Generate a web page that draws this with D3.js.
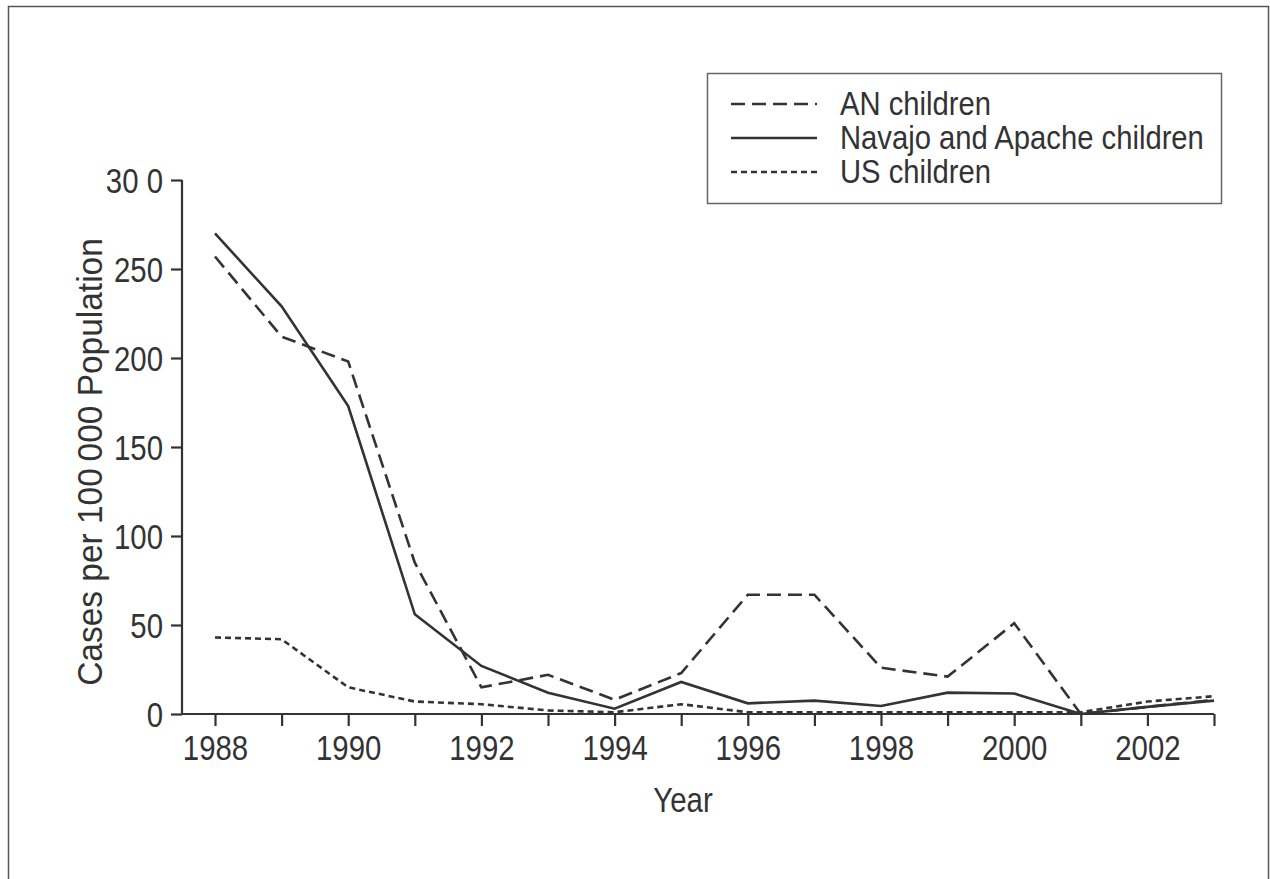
<!DOCTYPE html>
<html>
<head>
<meta charset="utf-8">
<script src="https://cdn.jsdelivr.net/npm/d3@7"></script>
<style>
  body { margin: 0; background: #fff; }
  text { font-family: "Liberation Sans", Arial, sans-serif; fill: #333; }
</style>
</head>
<body>
<svg id="chart" width="1270" height="879"></svg>
<script>
// values
var years = [1988, 1989, 1990, 1991, 1992, 1993, 1994, 1995, 1996, 1997, 1998, 1999, 2000, 2001, 2002, 2003];
var anChildren = [257, 212, 198, 85, 15, 22, 8, 23, 67, 67, 26, 21, 51, 0, 4, 8];
var navajoApache = [270, 229, 173, 56, 27, 12, 3, 18, 6, 7.5, 4.5, 12, 11.5, 0, 4, 7.5];
var usChildren = [43, 42, 15, 7, 5.5, 2, 1, 5.5, 1, 1, 1, 1, 1, 1, 7, 10];

var yTicks = [0, 50, 100, 150, 200, 250, 300];
var yTickLabels = ["0", "50", "100", "150", "200", "250", "30 0"];
var xTickLabels = [1988, 1990, 1992, 1994, 1996, 1998, 2000, 2002];

var seriesNames = ["AN children", "Navajo and Apache children", "US children"];
var seriesDash = ["14,7", null, "6,4"];

var svg = d3.select("#chart");
var ink = "#333";
var squeeze = 0.84; // no condensed font installed, so narrow the text by hand

// narrow a text horizontally (in its own direction) keeping its anchor point
function condense(sel, k) {
    sel.each(function() {
        var t = d3.select(this);
        var x0 = +t.attr("x") || 0;
        var tr = t.attr("transform") || "";
        t.attr("x", x0 / k)
         .attr("transform", tr + " scale(" + k + ",1)");
    });
}

// frame round the figure
svg.append("path")
   .attr("d", "M8.5,890 V6.5 H1268.5 V890")
   .attr("fill", "none")
   .attr("stroke", "#555")
   .attr("stroke-width", 1.5);

var x = d3.scaleLinear().domain([1988, 2003]).range([215, 1214]);
var y = d3.scaleLinear().domain([0, 300]).range([714, 180]);
var axisLeft = 182;

// y axis
var yAxis = d3.axisLeft(y)
              .tickValues(yTicks)
              .tickSize(11)
              .tickPadding(8)
              .tickFormat(function(d, i){ return yTickLabels[i]; });

var gy = svg.append("g")
            .attr("transform", "translate(" + axisLeft + ",0)")
            .call(yAxis);
gy.select(".domain").attr("d", "M0," + y(300) + "V" + y(0));

// x axis
var xAxis = d3.axisBottom(x)
              .tickValues(years)
              .tickSize(12)
              .tickPadding(9)
              .tickFormat(function(d){ return xTickLabels.indexOf(d) >= 0 ? d : ""; });

var gx = svg.append("g")
            .attr("transform", "translate(0," + y(0) + ")")
            .call(xAxis);
gx.select(".domain").attr("d", "M" + axisLeft + ",0H" + x(2003));

svg.selectAll(".domain, .tick line")
   .attr("stroke", ink)
   .attr("stroke-width", 2.2);
svg.selectAll(".tick text")
   .style("font-size", "35px")
   .style("font-family", "'Liberation Sans', Arial, sans-serif")
   .attr("fill", ink);
gx.selectAll(".tick text").attr("dy", "0.72em");
gy.selectAll(".tick text").attr("dy", "0.36em");
condense(svg.selectAll(".tick text"), squeeze);

// axis titles
svg.append("text")
   .attr("x", 683)
   .attr("y", 812)
   .attr("text-anchor", "middle")
   .style("font-size", "35px")
   .text("Year")
   .call(condense, squeeze);

svg.append("text")
   .attr("transform", "translate(102,462) rotate(-90)")
   .attr("text-anchor", "middle")
   .style("font-size", "36px")
   .text("Cases per 100\u2009000 Population")
   .call(condense, 0.93);

// lines
var line = d3.line()
             .x(function(d, i){ return x(years[i]); })
             .y(function(d){ return y(d); });

var allSeries = [anChildren, navajoApache, usChildren];

svg.selectAll(".series")
   .data(allSeries)
   .join("path")
   .attr("class", "series")
   .attr("d", line)
   .attr("fill", "none")
   .attr("stroke", ink)
   .attr("stroke-width", 2.6)
   .attr("stroke-dasharray", function(d, i){ return seriesDash[i]; });

// legend
var legend = svg.append("g");
legend.append("rect")
      .attr("x", 707.5)
      .attr("y", 73.5)
      .attr("width", 514)
      .attr("height", 130)
      .attr("fill", "#fff")
      .attr("stroke", "#666")
      .attr("stroke-width", 1.5);

var rows = legend.selectAll(".row")
                 .data(seriesNames)
                 .join("g")
                 .attr("class", "row")
                 .attr("transform", function(d, i){ return "translate(0," + (115 + i * 34) + ")"; });

rows.append("line")
    .attr("x1", 731)
    .attr("x2", 817)
    .attr("y1", -11)
    .attr("y2", -11)
    .attr("stroke", ink)
    .attr("stroke-width", 2.6)
    .attr("stroke-dasharray", function(d, i){ return seriesDash[i]; });

rows.append("text")
    .attr("x", 840)
    .style("font-size", "34px")
    .text(function(d){ return d; })
    .call(condense, 0.86);
</script>
</body>
</html>
